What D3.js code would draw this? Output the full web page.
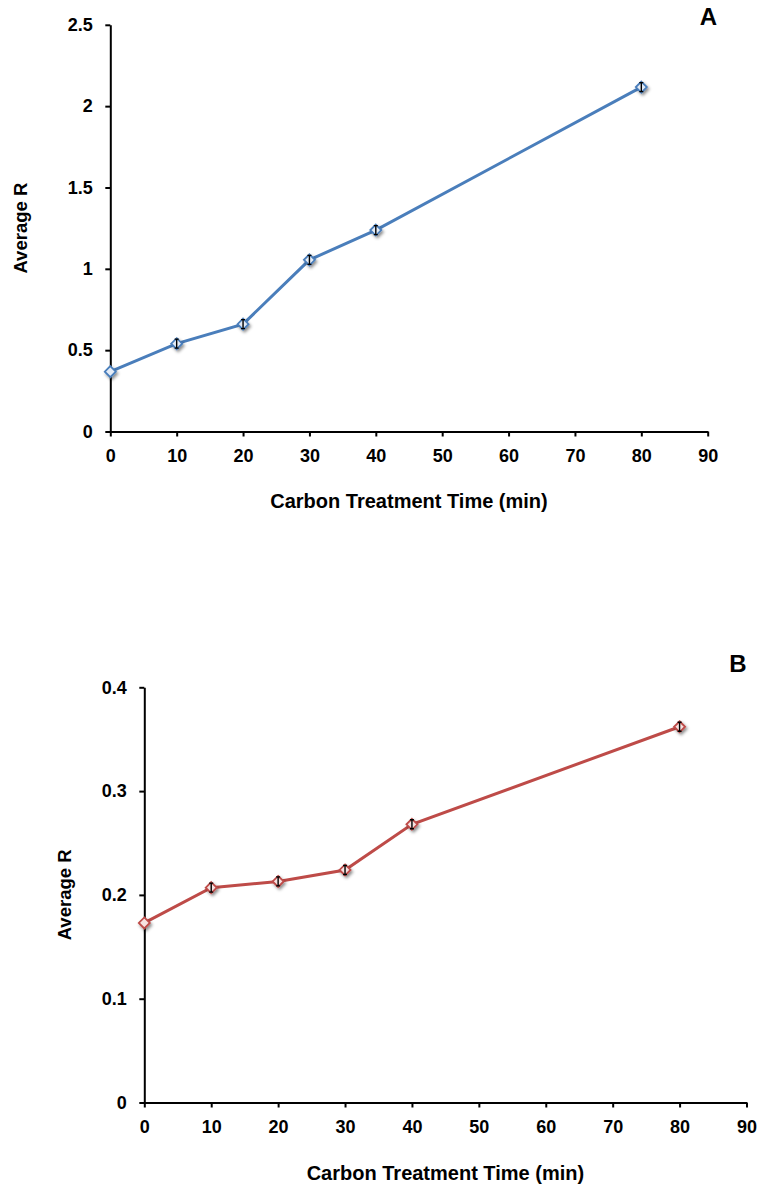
<!DOCTYPE html>
<html><head><meta charset="utf-8">
<script src="https://cdn.jsdelivr.net/npm/d3@7"></script>
<style>body{margin:0;background:#fff}svg{display:block}text{font-family:"Liberation Sans",Arial,sans-serif;font-weight:bold;fill:#000}</style>
</head><body>
<script>
const timesA = [0, 10, 20, 30, 40, 80];
const valuesA = [0.368, 0.54, 0.66, 1.055, 1.238, 2.117];
const timesB = [0, 10, 20, 30, 40, 80];
const valuesB = [0.173, 0.207, 0.213, 0.224, 0.268, 0.362];
const xTicks = [0, 10, 20, 30, 40, 50, 60, 70, 80, 90];
const yTicksA = [0, 0.5, 1, 1.5, 2, 2.5];
const yTicksB = [0, 0.1, 0.2, 0.3, 0.4];
const xTitle = "Carbon Treatment Time (min)";
const yTitle = "Average R";

const svg = d3.select("body").append("svg").attr("width", 759).attr("height", 1187);
const defs = svg.append("defs");
const f = defs.append("filter").attr("id","sh").attr("x","-100%").attr("y","-100%").attr("width","300%").attr("height","300%");
f.append("feDropShadow").attr("dx",1.5).attr("dy",2).attr("stdDeviation",1.6).attr("flood-color","#000").attr("flood-opacity",0.45);

function panel(o){
  const g = svg.append("g");
  const x = d3.scaleLinear().domain([0,90]).range([o.left, o.right]);
  const y = d3.scaleLinear().domain([0, o.ymax]).range([o.bottom, o.top]);
  const xa = g.append("g").attr("transform",`translate(0,${o.bottom})`)
    .call(d3.axisBottom(x).tickValues(xTicks).tickSize(5).tickSizeOuter(0).tickPadding(12.5).tickFormat(d3.format("d")));
  const ya = g.append("g").attr("transform",`translate(${o.left},0)`)
    .call(d3.axisLeft(y).tickValues(o.yTicks).tickSize(5).tickSizeOuter(0).tickPadding(12.5).tickFormat(d=>String(d)));
  [xa, ya].forEach(a=>{
    a.select(".domain").attr("stroke","#000").attr("stroke-width",2);
    a.selectAll(".tick line").attr("stroke","#000").attr("stroke-width",2);
    a.selectAll("text").attr("font-size",18).attr("font-family","Liberation Sans, Arial, sans-serif").attr("font-weight","bold").attr("fill","#000");
  });
  const data = o.times.map((t,i)=>[t,o.values[i]]);
  g.append("path").datum(data).attr("fill","none").attr("stroke",o.color).attr("stroke-width",3)
    .attr("d", d3.line().x(d=>x(d[0])).y(d=>y(d[1])));
  const m = g.selectAll(".m").data(data).enter().append("g")
    .attr("transform",d=>`translate(${x(d[0])},${y(d[1])})`);
  m.append("path").attr("d","M0,-5.5L5.5,0L0,5.5L-5.5,0Z").attr("fill",o.fill).attr("stroke",o.color).attr("stroke-width",1.8).attr("filter","url(#sh)");
  m.filter((d,i)=>i>0).append("path").attr("d","M0,-4.5V4.5M-2,-4.5H2M-2,4.5H2").attr("stroke","#000").attr("stroke-width",1.4);
  g.append("text").attr("x",(o.left+o.right)/2).attr("y",o.xTitleY).attr("text-anchor","middle").attr("font-size",20).text(xTitle);
  g.append("text").attr("transform",`translate(${o.yTitleX},${(o.top+o.bottom)/2}) rotate(-90)`).attr("text-anchor","middle").attr("font-size",18.5).text(yTitle);
  g.append("text").attr("x",o.letterX).attr("y",o.letterY).attr("text-anchor","middle").attr("font-size",24).text(o.letter);
}

panel({left:110.3,right:707.7,top:24.8,bottom:431.5,ymax:2.5,yTicks:yTicksA,times:timesA,values:valuesA,
  color:"#4a7ebb",fill:"#e4ecf7",xTitleY:508,yTitleX:27,letter:"A",letterX:708.5,letterY:25});
panel({left:144.3,right:746.5,top:687.3,bottom:1102.5,ymax:0.4,yTicks:yTicksB,times:timesB,values:valuesB,
  color:"#be4b48",fill:"#f7e2e1",xTitleY:1180,yTitleX:71,letter:"B",letterX:738,letterY:672});
</script>
</body></html>
